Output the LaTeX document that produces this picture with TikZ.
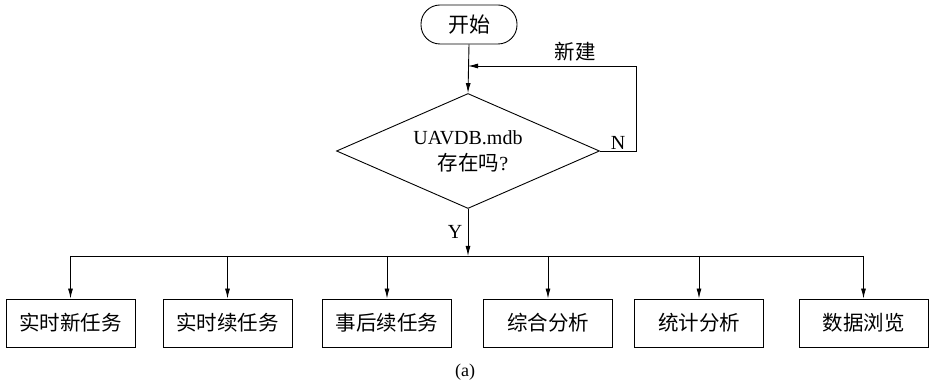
\documentclass[tikz,border=0pt]{standalone}
\usepackage{fontspec}
\setmainfont{Liberation Serif}
\newfontfamily\cjk{Noto Sans CJK SC}
\usetikzlibrary{shapes.geometric,arrows.meta}
\tikzset{
  every path/.style={line width=0.9pt},
  arr/.style={-{Latex[length=10pt,width=5pt]}},
  startbox/.style={draw,rounded corners=19pt,minimum width=96pt,minimum height=39pt,inner sep=0pt,font=\cjk\fontsize{21}{24}\selectfont},
  decide/.style={draw,diamond,aspect=2.287,minimum width=263pt,minimum height=115pt,inner sep=0pt,align=center,font=\fontsize{20}{26}\selectfont},
  taskbox/.style={draw,minimum width=129pt,minimum height=48pt,inner sep=0pt,font=\cjk\fontsize{20.5}{24}\selectfont},
  lbl/.style={inner sep=0pt,font=\fontsize{20}{24}\selectfont},
}
\begin{document}
\begin{tikzpicture}[x=1pt,y=-1pt]
\useasboundingbox (0,0) rectangle (930,387);

\node[startbox] (start) at (469,24.5) {开始};
\node[decide] (dec) at (468,151) {UAVDB.mdb\\\hspace*{10pt}{\cjk\fontsize{20.5}{26}\selectfont 存在吗}?};

% feedback path for a missing database
\coordinate (join) at (468,66);
\coordinate (fbtop) at (636,66);
\draw[arr] (start.south) -- (dec.north);
\draw[arr] (dec.east) -| (fbtop) -- (join);
\node[lbl] (nlab) at (618,143) {N};
\node[lbl,font=\cjk\fontsize{20.5}{24}\selectfont] (newlab) at (575,52) {新建};

% branch bus
\coordinate (bus) at (468,256);
\coordinate (busL) at (70.5,256);
\coordinate (busR) at (863.5,256);
\draw[arr] (dec.south) -- (bus);
\node[lbl] (ylab) at (455,232) {Y};
\draw (busL) -- (busR);

\node[taskbox] (t1) at (70.5,323) {实时新任务};
\node[taskbox] (t2) at (227.5,323) {实时续任务};
\node[taskbox] (t3) at (387,323) {事后续任务};
\node[taskbox] (t4) at (548,323) {综合分析};
\node[taskbox] (t5) at (699,323) {统计分析};
\node[taskbox] (t6) at (863.5,323) {数据浏览};

\foreach \t in {t1,t2,t3,t4,t5,t6}
  \draw[arr] (\t.north |- bus) -- (\t.north);

\node[lbl,font=\fontsize{18}{22}\selectfont] (cap) at (465,372) {(a)};
\end{tikzpicture}
\end{document}
